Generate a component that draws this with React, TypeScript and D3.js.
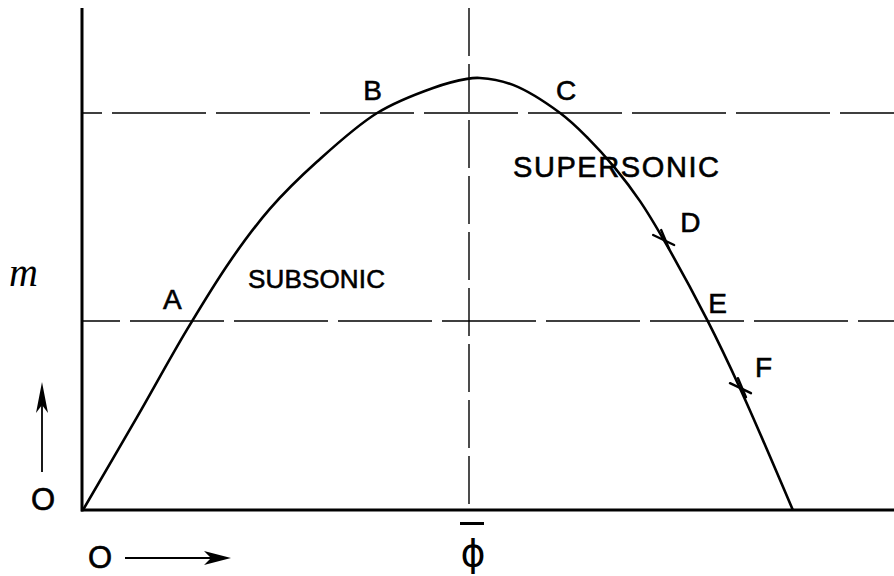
import React from "react";
import * as d3 from "d3";

// Mass flow m against the quantity φ, normalised so the maximum sits at (φ̄, m_max) = (1, 1)
const phi = [0, 0.14, 0.269, 0.381, 0.484, 0.606, 0.762, 0.907, 0.995, 1.028, 1.114, 1.236, 1.308, 1.378, 1.443, 1.508, 1.617, 1.702, 1.839];
const mass = [0, 0.215, 0.417, 0.576, 0.697, 0.806, 0.919, 0.977, 0.998, 1.0, 0.984, 0.919, 0.861, 0.792, 0.715, 0.62, 0.44, 0.282, 0];

// Horizontal reference levels
const levels = [0.919, 0.4375];

// Labelled points on the curve
const pointNames = ["A", "B", "C", "D", "E", "F"];
const pointPhi = [0.277, 0.762, 1.236, 1.503, 1.617, 1.702];
const pointMass = [0.4375, 0.919, 0.919, 0.625, 0.4375, 0.282];
const crossed = [false, false, false, true, false, true];
const labelOffsets: [number, number][] = [[-27, -12], [-14, -13], [-4, -13], [17, -8], [1, -8], [15, -11]];

const regionNames = ["SUBSONIC", "SUPERSONIC"];

const W = 894;
const H = 576;

export default function App() {
  const x = d3.scaleLinear().domain([0, 1]).range([83, 469]);
  const y = d3.scaleLinear().domain([0, 1]).range([510, 78]);

  const line = d3
    .line<number>()
    .x((_, i) => x(phi[i]))
    .y((d) => y(d))
    .curve(d3.curveCatmullRom.alpha(0.5));

  const font = "'Liberation Sans', Arial, sans-serif";
  const letterStyle = { fontFamily: font, fontSize: 28, fill: "#000", stroke: "#000", strokeWidth: 0.6 };

  return (
    <svg width={W} height={H} style={{ position: "absolute", left: 0, top: 0, background: "#fff" }}>
      <rect width={W} height={H} fill="#fff" />

      {/* dashed reference levels */}
      {levels.map((l, i) => (
        <line key={i} x1={x(0)} x2={W} y1={y(l)} y2={y(l)} stroke="#000" strokeWidth={1.4}
          strokeDasharray="94 10" strokeDashoffset={i === 0 ? 75 : 57} />
      ))}

      {/* φ̄ vertical */}
      <line x1={x(1)} x2={x(1)} y1={0} y2={y(0)} stroke="#000" strokeWidth={1.4} strokeDasharray="48 8" strokeDashoffset={-8} />

      {/* axes */}
      <line x1={x(0) - 1} x2={x(0) - 1} y1={8} y2={y(0) + 1.5} stroke="#000" strokeWidth={3} />
      <line x1={x(0) - 2} x2={W} y1={y(0)} y2={y(0)} stroke="#000" strokeWidth={3} />

      {/* curve */}
      <path d={line(mass) ?? ""} fill="none" stroke="#000" strokeWidth={2.6} strokeLinejoin="round" />

      {/* point crosses and labels */}
      {pointNames.map((n, i) => {
        const px = x(pointPhi[i]);
        const py = y(pointMass[i]);
        return (
          <g key={n}>
            {crossed[i] && (
              <g stroke="#000" strokeWidth={2.4} strokeLinecap="round">
                <line x1={px - 10} y1={py - 5} x2={px + 11} y2={py + 5} />
                <line x1={px - 2} y1={py - 10} x2={px + 6} y2={py + 9} />
              </g>
            )}
            <text x={px + labelOffsets[i][0]} y={py + labelOffsets[i][1]} style={letterStyle}>{n}</text>
          </g>
        );
      })}

      {/* region names */}
      <text x={248} y={288} textLength={137} lengthAdjust="spacing" style={{ ...letterStyle, fontSize: 26 }}>{regionNames[0]}</text>
      <text x={513} y={177} textLength={206} lengthAdjust="spacing" style={{ ...letterStyle, fontSize: 29 }}>{regionNames[1]}</text>

      {/* vertical axis title and arrow */}
      <text x={9} y={286} style={{ fontFamily: "'Liberation Serif', serif", fontStyle: "italic", fontSize: 40, fill: "#000" }}>m</text>
      <line x1={42} x2={42} y1={472} y2={395} stroke="#000" strokeWidth={1.8} />
      <path d="M42,382 L36,413 L42,405 L48,413 Z" fill="#000" />
      <text x={43} y={510} textAnchor="middle" style={{ ...letterStyle, fontSize: 31 }}>O</text>

      {/* horizontal axis origin and arrow */}
      <text x={100} y={568} textAnchor="middle" style={{ ...letterStyle, fontSize: 31 }}>O</text>
      <line x1={125} x2={220} y1={558} y2={558} stroke="#000" strokeWidth={1.8} />
      <path d="M231,558 L204,551 L211,558 L204,565 Z" fill="#000" />

      {/* φ̄ tick label */}
      <line x1={460} x2={484} y1={523.5} y2={523.5} stroke="#000" strokeWidth={3} />
      <text x={x(1) + 4} y={566} textAnchor="middle" style={{ fontFamily: "'DejaVu Sans', sans-serif", fontSize: 38, fill: "#000" }}>ϕ</text>
    </svg>
  );
}
